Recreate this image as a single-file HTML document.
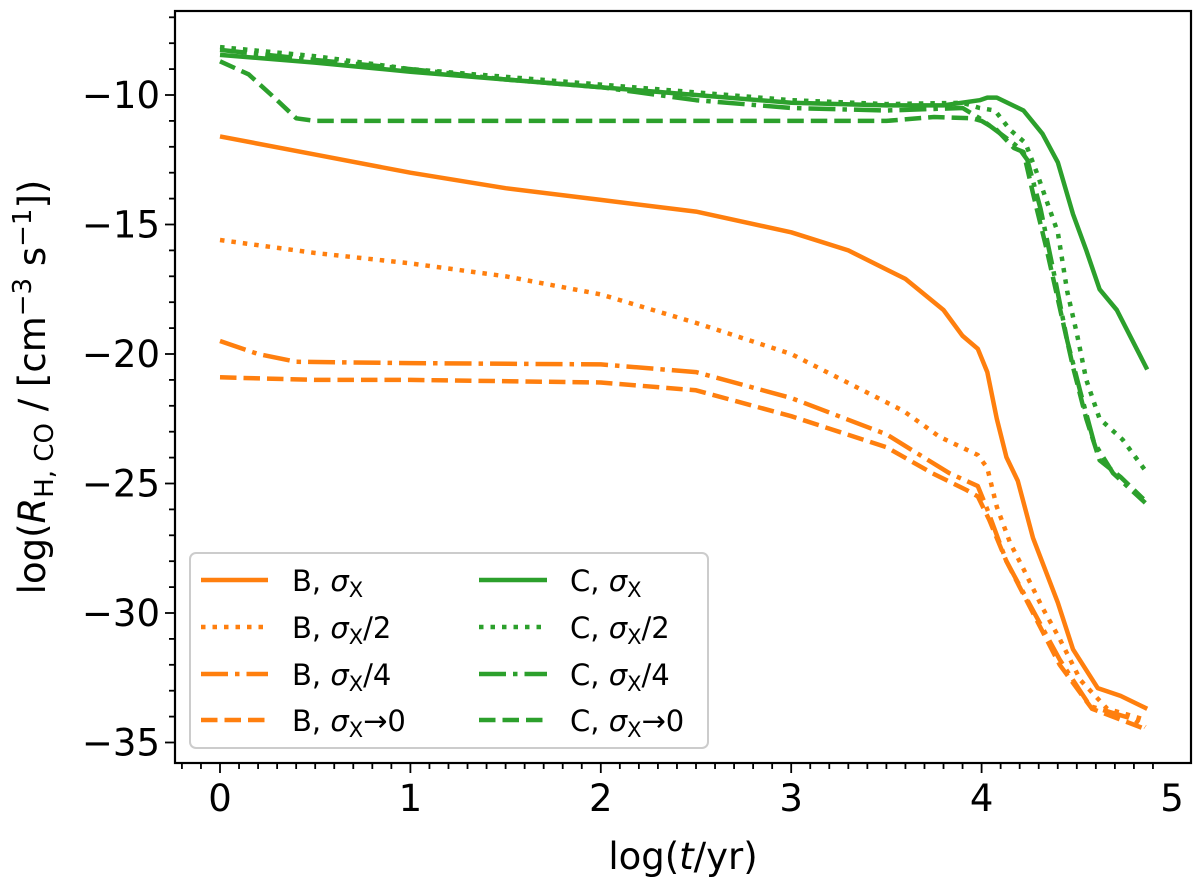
<!DOCTYPE html>
<html><head><meta charset="utf-8">
<style>
body{margin:0;background:#fff;}
svg{display:block;font-family:"DejaVu Sans","Liberation Sans",sans-serif;}
</style></head>
<body>
<svg id="chart" width="1200" height="884" viewBox="0 0 1200 884"></svg>
<script>
const xTicks=[0,1,2,3,4,5];
const yTicks=[-10,-15,-20,-25,-30,-35];
const bSigmaT=[0,0.5,1,1.5,2,2.5,3,3.3,3.6,3.8,3.9,3.98,4.03,4.08,4.13,4.19,4.27,4.40,4.48,4.61,4.73,4.87];
const bSigmaV=[-11.6,-12.3,-13.0,-13.6,-14.05,-14.5,-15.3,-16.0,-17.1,-18.3,-19.3,-19.8,-20.7,-22.5,-23.98,-24.9,-27.1,-29.6,-31.4,-32.9,-33.2,-33.7];
const bHalfT=[0,0.5,1,1.5,2,2.5,3,3.59,3.78,3.98,4.03,4.08,4.15,4.22,4.32,4.41,4.52,4.66,4.85];
const bHalfV=[-15.6,-16.1,-16.5,-17.0,-17.7,-18.8,-20.0,-22.2,-23.2,-23.9,-24.4,-25.9,-27.3,-28.3,-29.8,-31.0,-32.6,-33.7,-34.1];
const bQuarterT=[0,0.2,0.4,1,2,2.5,3,3.5,3.83,3.98,4.03,4.13,4.27,4.41,4.57,4.80,4.86];
const bQuarterV=[-19.5,-20.0,-20.3,-20.35,-20.4,-20.7,-21.7,-23.1,-24.6,-25.1,-26.0,-28.0,-29.9,-31.8,-33.6,-34.1,-34.4];
const bZeroT=[0,0.5,1,2,2.5,3,3.5,3.74,3.92,3.98,4.04,4.13,4.27,4.41,4.58,4.85];
const bZeroV=[-20.9,-21.0,-21.0,-21.1,-21.4,-22.4,-23.6,-24.6,-25.25,-25.5,-26.4,-28.0,-30.0,-32.0,-33.7,-34.45];
const cSigmaT=[0,0.5,1,1.5,2,2.5,3,3.5,3.8,3.99,4.03,4.08,4.22,4.32,4.40,4.48,4.55,4.62,4.71,4.87];
const cSigmaV=[-8.45,-8.75,-9.1,-9.4,-9.7,-10.0,-10.3,-10.4,-10.4,-10.2,-10.1,-10.1,-10.6,-11.5,-12.6,-14.6,-16.0,-17.5,-18.3,-20.6];
const cHalfT=[0,0.5,1,2,3,3.5,3.9,3.99,4.07,4.15,4.23,4.29,4.34,4.40,4.45,4.50,4.55,4.62,4.74,4.87];
const cHalfV=[-8.15,-8.5,-9.0,-9.6,-10.2,-10.35,-10.3,-10.5,-10.6,-11.35,-11.85,-13.0,-14.05,-15.3,-17.6,-19.2,-21.0,-22.5,-23.3,-24.6];
const cQuarterT=[0,0.5,1,1.5,2,2.5,3,3.5,3.9,3.99,4.10,4.19,4.24,4.31,4.38,4.45,4.52,4.59,4.69,4.86];
const cQuarterV=[-8.26,-8.65,-9.0,-9.4,-9.7,-10.2,-10.5,-10.6,-10.5,-10.9,-11.5,-12.0,-12.5,-14.4,-16.9,-19.5,-21.5,-23.4,-24.6,-25.75];
const cZeroT=[0,0.15,0.3,0.4,0.5,1,2,3,3.5,3.75,3.95,4.0,4.08,4.17,4.22,4.27,4.34,4.41,4.48,4.55,4.62,4.73,4.85];
const cZeroV=[-8.7,-9.2,-10.2,-10.9,-11.0,-11.0,-11.0,-11.0,-11.0,-10.85,-10.9,-11.0,-11.35,-12.05,-12.2,-13.8,-15.9,-18.2,-20.5,-22.5,-24.1,-24.75,-25.6];

const NS='http://www.w3.org/2000/svg';
const svg=document.getElementById('chart');
const L=175,R=1191,T=11,B=763;
const xs=t=>220+190.4*t;
const ys=v=>95+(-10-v)*25.9;
function mk(tag,attrs,parent){const e=document.createElementNS(NS,tag);for(const k in attrs)e.setAttribute(k,attrs[k]);(parent||svg).appendChild(e);return e;}
const OR='#ff7f0e',GR='#2ca02c';
const DASH={solid:'',dot:'4.5 7',dashdot:'27 7 4.5 7',dash:'16.5 7'};
const series=[
 ['b-sigma',bSigmaT,bSigmaV,OR,'solid'],['b-half',bHalfT,bHalfV,OR,'dot'],['b-quarter',bQuarterT,bQuarterV,OR,'dashdot'],['b-zero',bZeroT,bZeroV,OR,'dash'],
 ['c-sigma',cSigmaT,cSigmaV,GR,'solid'],['c-half',cHalfT,cHalfV,GR,'dot'],['c-quarter',cQuarterT,cQuarterV,GR,'dashdot'],['c-zero',cZeroT,cZeroV,GR,'dash']];
const g=mk('g',{});


series.forEach(s=>{
  const d=s[1].map((t,i)=>(i?'L':'M')+xs(t).toFixed(1)+' '+ys(s[2][i]).toFixed(1)).join(' ');
  const p=mk('path',{d:d,fill:'none',stroke:s[3],'stroke-width':4.5,'stroke-linejoin':'round','stroke-dasharray':DASH[s[4]]},g);
  
  
});
const fr=mk('rect',{x:L,y:T,width:R-L,height:B-T,fill:'none',stroke:'#000','stroke-width':2.2});


for(let m=-2;m<=49;m++){const t=m/10,x=xs(t);if(x<L||x>R)continue;mk('line',{x1:x,x2:x,y1:B,y2:B+(m%10===0?10:6),stroke:'#000','stroke-width':1.8});}
xTicks.forEach(t=>{const e=mk('text',{x:xs(t),y:B+48,'font-size':37,'text-anchor':'middle'});e.textContent=t;
 
 });
for(let v=-7;v>=-36;v--){const y=ys(v);if(y<T||y>B)continue;mk('line',{x1:L,x2:L-(v%5===0?10:6),y1:y,y2:y,stroke:'#000','stroke-width':1.8});}
yTicks.forEach(v=>{const e=mk('text',{x:L-15,y:ys(v)+13,'font-size':37,'text-anchor':'end'});e.textContent='\u2212'+Math.abs(v);
 
 });
</script>
<svg style="position:absolute;left:0;top:0" width="1200" height="884">
 <text x="683" y="869" font-size="37" text-anchor="middle" font-family="DejaVu Sans, Liberation Sans, sans-serif">log(<tspan font-style="italic">t</tspan>/yr)</text>
 <text transform="translate(45,387) rotate(-90)" font-size="37" text-anchor="middle" font-family="DejaVu Sans, Liberation Sans, sans-serif">log(<tspan font-style="italic">R</tspan><tspan font-size="26" dy="8">H, CO</tspan><tspan dy="-8"> / [cm</tspan><tspan font-size="26" dy="-14">−3</tspan><tspan dy="14"> s</tspan><tspan font-size="26" dy="-14">−1</tspan><tspan dy="14">])</tspan></text>
 <g font-family="DejaVu Sans, Liberation Sans, sans-serif" font-size="29">
  <rect x="190" y="553" width="518" height="195" rx="6" fill="#fff" fill-opacity="0.85" stroke="#ccc" stroke-width="2"/>
  <g><line x1="201" x2="268" y1="580" y2="580" stroke="#ff7f0e" stroke-width="4.5"/><text x="292" y="591">B, <tspan font-style="italic">σ</tspan><tspan font-size="21" dy="6">X</tspan></text></g>
  <g><line x1="201" x2="268" y1="627" y2="627" stroke="#ff7f0e" stroke-width="4.5" stroke-dasharray="4.5 7"/><text x="292" y="638">B, <tspan font-style="italic">σ</tspan><tspan font-size="21" dy="6">X</tspan><tspan dy="-6">/2</tspan></text></g>
  <g><line x1="201" x2="268" y1="674" y2="674" stroke="#ff7f0e" stroke-width="4.5" stroke-dasharray="27 7 4.5 7"/><text x="292" y="685">B, <tspan font-style="italic">σ</tspan><tspan font-size="21" dy="6">X</tspan><tspan dy="-6">/4</tspan></text></g>
  <g><line x1="201" x2="268" y1="720" y2="720" stroke="#ff7f0e" stroke-width="4.5" stroke-dasharray="16.5 7"/><text x="292" y="731">B, <tspan font-style="italic">σ</tspan><tspan font-size="21" dy="6">X</tspan><tspan dy="-6">→0</tspan></text></g>
  <g><line x1="479" x2="547" y1="580" y2="580" stroke="#2ca02c" stroke-width="4.5"/><text x="570" y="591">C, <tspan font-style="italic">σ</tspan><tspan font-size="21" dy="6">X</tspan></text></g>
  <g><line x1="479" x2="547" y1="627" y2="627" stroke="#2ca02c" stroke-width="4.5" stroke-dasharray="4.5 7"/><text x="570" y="638">C, <tspan font-style="italic">σ</tspan><tspan font-size="21" dy="6">X</tspan><tspan dy="-6">/2</tspan></text></g>
  <g><line x1="479" x2="547" y1="674" y2="674" stroke="#2ca02c" stroke-width="4.5" stroke-dasharray="27 7 4.5 7"/><text x="570" y="685">C, <tspan font-style="italic">σ</tspan><tspan font-size="21" dy="6">X</tspan><tspan dy="-6">/4</tspan></text></g>
  <g><line x1="479" x2="547" y1="720" y2="720" stroke="#2ca02c" stroke-width="4.5" stroke-dasharray="16.5 7"/><text x="570" y="731">C, <tspan font-style="italic">σ</tspan><tspan font-size="21" dy="6">X</tspan><tspan dy="-6">→0</tspan></text></g>
 </g>
</svg>
</body></html>
